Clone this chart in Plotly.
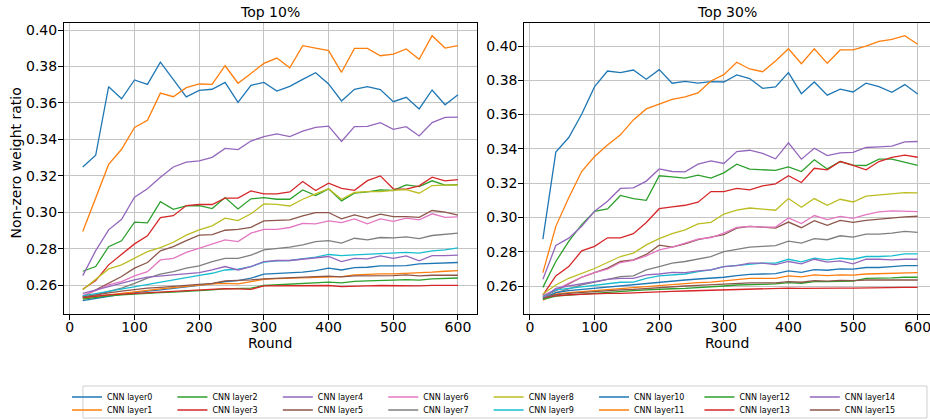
import plotly.graph_objects as go

rounds = list(range(20, 601, 20))
layer_names = [f"CNN layer{i}" for i in range(16)]
colors = ['#1f77b4', '#ff7f0e', '#2ca02c', '#d62728', '#9467bd',
          '#8c564b', '#e377c2', '#7f7f7f', '#bcbd22', '#17becf']

# ---- Top 10% ----
top10_layer0 = [0.3249, 0.3313, 0.3689, 0.3623, 0.3726, 0.3702, 0.3824, 0.3726, 0.3633, 0.3669,
                0.3675, 0.3713, 0.3603, 0.3697, 0.3713, 0.3665, 0.3691, 0.3729, 0.3766, 0.3704,
                0.3611, 0.3675, 0.3689, 0.3673, 0.3607, 0.3631, 0.3567, 0.3671, 0.3590, 0.3645]
top10_layer1 = [0.2895, 0.3080, 0.3263, 0.3346, 0.3466, 0.3505, 0.3654, 0.3634, 0.3684, 0.3704,
                0.3702, 0.3804, 0.3708, 0.3762, 0.3817, 0.3846, 0.3793, 0.3914, 0.3899, 0.3887,
                0.3768, 0.3899, 0.3899, 0.3859, 0.3868, 0.3896, 0.3839, 0.3969, 0.3901, 0.3914]
top10_layer2 = [0.2677, 0.2703, 0.2812, 0.2844, 0.2946, 0.2942, 0.3059, 0.3017, 0.3035, 0.3037,
                0.3021, 0.3081, 0.3019, 0.3074, 0.3081, 0.3072, 0.3072, 0.3123, 0.3092, 0.3129,
                0.3063, 0.3105, 0.3112, 0.3123, 0.3120, 0.3151, 0.3141, 0.3173, 0.3149, 0.3152]
top10_layer3 = [0.2578, 0.2626, 0.2712, 0.2767, 0.2827, 0.2871, 0.2971, 0.2982, 0.3037, 0.3043,
                0.3043, 0.3078, 0.3078, 0.3118, 0.3101, 0.3101, 0.3112, 0.3169, 0.3120, 0.3160,
                0.3132, 0.3121, 0.3174, 0.3200, 0.3129, 0.3127, 0.3145, 0.3193, 0.3173, 0.3180]
top10_layer4 = [0.2653, 0.2790, 0.2904, 0.2962, 0.3083, 0.3129, 0.3192, 0.3249, 0.3276, 0.3282,
                0.3302, 0.3351, 0.3344, 0.3391, 0.3415, 0.3430, 0.3415, 0.3446, 0.3466, 0.3473,
                0.3389, 0.3470, 0.3472, 0.3492, 0.3455, 0.3470, 0.3419, 0.3492, 0.3521, 0.3522]
top10_layer5 = [0.2538, 0.2575, 0.2611, 0.2648, 0.2694, 0.2725, 0.2789, 0.2812, 0.2845, 0.2875,
                0.2878, 0.2902, 0.2907, 0.2918, 0.2953, 0.2957, 0.2959, 0.2981, 0.2999, 0.2999,
                0.2964, 0.2986, 0.2968, 0.2990, 0.2977, 0.2977, 0.2973, 0.3010, 0.3001, 0.2985]
top10_layer6 = [0.2545, 0.2570, 0.2602, 0.2620, 0.2652, 0.2675, 0.2739, 0.2748, 0.2780, 0.2803,
                0.2822, 0.2849, 0.2840, 0.2886, 0.2907, 0.2907, 0.2917, 0.2940, 0.2937, 0.2953,
                0.2944, 0.2964, 0.2937, 0.2964, 0.2951, 0.2968, 0.2959, 0.2992, 0.2973, 0.2975]
top10_layer7 = [0.2538, 0.2547, 0.2566, 0.2584, 0.2611, 0.2639, 0.2661, 0.2675, 0.2694, 0.2706,
                0.2730, 0.2748, 0.2748, 0.2765, 0.2794, 0.2801, 0.2809, 0.2822, 0.2840, 0.2845,
                0.2831, 0.2858, 0.2849, 0.2862, 0.2860, 0.2865, 0.2856, 0.2873, 0.2880, 0.2886]
top10_layer8 = [0.2575, 0.2630, 0.2690, 0.2712, 0.2748, 0.2785, 0.2807, 0.2836, 0.2875, 0.2904,
                0.2926, 0.2968, 0.2955, 0.2992, 0.3046, 0.3044, 0.3035, 0.3072, 0.3101, 0.3129,
                0.3072, 0.3109, 0.3114, 0.3114, 0.3121, 0.3125, 0.3105, 0.3147, 0.3149, 0.3150]
top10_layer9 = [0.2542, 0.2555, 0.2566, 0.2580, 0.2593, 0.2605, 0.2618, 0.2630, 0.2645, 0.2655,
                0.2666, 0.2684, 0.2688, 0.2703, 0.2727, 0.2734, 0.2736, 0.2743, 0.2754, 0.2769,
                0.2763, 0.2767, 0.2770, 0.2776, 0.2776, 0.2780, 0.2776, 0.2789, 0.2794, 0.2805]
top10_layer10 = [0.2516, 0.2530, 0.2540, 0.2550, 0.2560, 0.2568, 0.2575, 0.2582, 0.2590, 0.2600,
                 0.2608, 0.2620, 0.2626, 0.2639, 0.2661, 0.2664, 0.2666, 0.2672, 0.2681, 0.2694,
                 0.2684, 0.2697, 0.2699, 0.2706, 0.2706, 0.2708, 0.2717, 0.2721, 0.2723, 0.2725]
top10_layer11 = [0.2529, 0.2540, 0.2548, 0.2556, 0.2565, 0.2572, 0.2580, 0.2587, 0.2595, 0.2602,
                 0.2608, 0.2611, 0.2608, 0.2620, 0.2633, 0.2637, 0.2639, 0.2641, 0.2644, 0.2648,
                 0.2648, 0.2657, 0.2661, 0.2663, 0.2663, 0.2666, 0.2666, 0.2672, 0.2677, 0.2680]
top10_layer12 = [0.2524, 0.2534, 0.2542, 0.2548, 0.2553, 0.2557, 0.2560, 0.2563, 0.2566, 0.2569,
                 0.2575, 0.2580, 0.2582, 0.2584, 0.2599, 0.2602, 0.2604, 0.2608, 0.2613, 0.2617,
                 0.2613, 0.2622, 0.2624, 0.2628, 0.2628, 0.2631, 0.2628, 0.2635, 0.2639, 0.2640]
top10_layer13 = [0.2533, 0.2541, 0.2547, 0.2552, 0.2556, 0.2560, 0.2566, 0.2569, 0.2571, 0.2575,
                 0.2578, 0.2582, 0.2580, 0.2578, 0.2597, 0.2597, 0.2597, 0.2597, 0.2597, 0.2599,
                 0.2593, 0.2597, 0.2597, 0.2599, 0.2597, 0.2595, 0.2597, 0.2600, 0.2600, 0.2600]
top10_layer14 = [0.2556, 0.2575, 0.2595, 0.2612, 0.2630, 0.2645, 0.2652, 0.2658, 0.2666, 0.2670,
                 0.2684, 0.2703, 0.2684, 0.2703, 0.2730, 0.2736, 0.2736, 0.2743, 0.2748, 0.2758,
                 0.2730, 0.2748, 0.2745, 0.2761, 0.2748, 0.2761, 0.2734, 0.2763, 0.2763, 0.2765]
top10_layer15 = [0.2535, 0.2548, 0.2558, 0.2568, 0.2578, 0.2584, 0.2589, 0.2594, 0.2599, 0.2604,
                 0.2611, 0.2624, 0.2626, 0.2630, 0.2635, 0.2639, 0.2641, 0.2644, 0.2648, 0.2650,
                 0.2646, 0.2652, 0.2652, 0.2655, 0.2653, 0.2657, 0.2652, 0.2655, 0.2653, 0.2655]

# ---- Top 30% ----
top30_layer0 = [0.2874, 0.3381, 0.3466, 0.3602, 0.3763, 0.3854, 0.3845, 0.3860, 0.3806, 0.3862,
                0.3783, 0.3794, 0.3783, 0.3792, 0.3790, 0.3831, 0.3810, 0.3753, 0.3761, 0.3845,
                0.3722, 0.3790, 0.3713, 0.3748, 0.3732, 0.3783, 0.3763, 0.3730, 0.3775, 0.3720]
top30_layer1 = [0.2678, 0.2948, 0.3115, 0.3268, 0.3355, 0.3423, 0.3482, 0.3569, 0.3633, 0.3660,
                0.3689, 0.3703, 0.3726, 0.3796, 0.3833, 0.3905, 0.3866, 0.3850, 0.3913, 0.3984,
                0.3897, 0.3984, 0.3899, 0.3977, 0.3977, 0.4000, 0.4027, 0.4039, 0.4060, 0.4010]
top30_layer2 = [0.2592, 0.2743, 0.2860, 0.2958, 0.3036, 0.3050, 0.3128, 0.3110, 0.3100, 0.3243,
                0.3237, 0.3229, 0.3247, 0.3229, 0.3260, 0.3311, 0.3282, 0.3278, 0.3274, 0.3295,
                0.3268, 0.3336, 0.3283, 0.3326, 0.3305, 0.3303, 0.3340, 0.3340, 0.3320, 0.3303]
top30_layer3 = [0.2547, 0.2659, 0.2713, 0.2805, 0.2831, 0.2881, 0.2881, 0.2905, 0.2971, 0.3051,
                0.3061, 0.3071, 0.3089, 0.3151, 0.3151, 0.3169, 0.3161, 0.3184, 0.3196, 0.3243,
                0.3204, 0.3287, 0.3278, 0.3326, 0.3303, 0.3278, 0.3326, 0.3351, 0.3363, 0.3351]
top30_layer4 = [0.2639, 0.2836, 0.2879, 0.2948, 0.3036, 0.3094, 0.3169, 0.3173, 0.3212, 0.3283,
                0.3268, 0.3266, 0.3311, 0.3330, 0.3315, 0.3384, 0.3392, 0.3373, 0.3342, 0.3435,
                0.3340, 0.3404, 0.3361, 0.3377, 0.3379, 0.3408, 0.3412, 0.3416, 0.3441, 0.3443]
top30_layer5 = [0.2541, 0.2573, 0.2612, 0.2651, 0.2678, 0.2704, 0.2743, 0.2753, 0.2784, 0.2838,
                0.2827, 0.2846, 0.2870, 0.2883, 0.2899, 0.2938, 0.2948, 0.2944, 0.2938, 0.2973,
                0.2940, 0.2981, 0.2954, 0.2983, 0.2971, 0.2983, 0.2991, 0.2997, 0.3003, 0.3007]
top30_layer6 = [0.2547, 0.2577, 0.2616, 0.2651, 0.2678, 0.2698, 0.2737, 0.2749, 0.2776, 0.2811,
                0.2827, 0.2850, 0.2874, 0.2883, 0.2909, 0.2942, 0.2948, 0.2944, 0.2944, 0.2997,
                0.2964, 0.3011, 0.2987, 0.3006, 0.2995, 0.3016, 0.3032, 0.3038, 0.3038, 0.3034]
top30_layer7 = [0.2537, 0.2561, 0.2586, 0.2606, 0.2623, 0.2639, 0.2655, 0.2659, 0.2694, 0.2713,
                0.2733, 0.2743, 0.2758, 0.2772, 0.2801, 0.2815, 0.2827, 0.2831, 0.2836, 0.2862,
                0.2850, 0.2876, 0.2870, 0.2893, 0.2885, 0.2903, 0.2903, 0.2909, 0.2919, 0.2913]
top30_layer8 = [0.2553, 0.2606, 0.2645, 0.2674, 0.2702, 0.2737, 0.2772, 0.2792, 0.2840, 0.2876,
                0.2905, 0.2928, 0.2962, 0.2971, 0.3020, 0.3042, 0.3055, 0.3049, 0.3042, 0.3110,
                0.3059, 0.3110, 0.3071, 0.3106, 0.3090, 0.3124, 0.3130, 0.3136, 0.3145, 0.3143]
top30_layer9 = [0.2537, 0.2577, 0.2586, 0.2596, 0.2606, 0.2616, 0.2622, 0.2623, 0.2645, 0.2659,
                0.2666, 0.2670, 0.2684, 0.2694, 0.2713, 0.2719, 0.2729, 0.2733, 0.2733, 0.2756,
                0.2741, 0.2762, 0.2752, 0.2762, 0.2756, 0.2772, 0.2772, 0.2776, 0.2788, 0.2788]
top30_layer10 = [0.2522, 0.2561, 0.2573, 0.2580, 0.2590, 0.2596, 0.2604, 0.2610, 0.2616, 0.2623,
                 0.2629, 0.2635, 0.2641, 0.2645, 0.2651, 0.2661, 0.2668, 0.2670, 0.2672, 0.2688,
                 0.2680, 0.2696, 0.2692, 0.2700, 0.2698, 0.2708, 0.2708, 0.2713, 0.2719, 0.2719]
top30_layer11 = [0.2518, 0.2553, 0.2561, 0.2567, 0.2573, 0.2580, 0.2584, 0.2588, 0.2596, 0.2604,
                 0.2610, 0.2616, 0.2620, 0.2623, 0.2629, 0.2635, 0.2645, 0.2645, 0.2645, 0.2659,
                 0.2653, 0.2665, 0.2661, 0.2665, 0.2663, 0.2670, 0.2672, 0.2674, 0.2678, 0.2678]
top30_layer12 = [0.2522, 0.2541, 0.2547, 0.2553, 0.2557, 0.2561, 0.2567, 0.2573, 0.2577, 0.2582,
                 0.2584, 0.2586, 0.2590, 0.2592, 0.2600, 0.2606, 0.2610, 0.2610, 0.2612, 0.2620,
                 0.2616, 0.2625, 0.2625, 0.2629, 0.2629, 0.2645, 0.2645, 0.2647, 0.2651, 0.2651]
top30_layer13 = [0.2532, 0.2543, 0.2549, 0.2553, 0.2555, 0.2557, 0.2557, 0.2561, 0.2563, 0.2567,
                 0.2569, 0.2571, 0.2573, 0.2577, 0.2579, 0.2580, 0.2582, 0.2584, 0.2584, 0.2588,
                 0.2586, 0.2588, 0.2586, 0.2588, 0.2588, 0.2590, 0.2590, 0.2590, 0.2592, 0.2592]
top30_layer14 = [0.2528, 0.2586, 0.2600, 0.2612, 0.2625, 0.2639, 0.2645, 0.2645, 0.2665, 0.2670,
                 0.2680, 0.2678, 0.2688, 0.2694, 0.2713, 0.2719, 0.2733, 0.2733, 0.2725, 0.2743,
                 0.2729, 0.2756, 0.2739, 0.2747, 0.2729, 0.2756, 0.2756, 0.2752, 0.2756, 0.2756]
top30_layer15 = [0.2528, 0.2549, 0.2557, 0.2563, 0.2569, 0.2573, 0.2577, 0.2580, 0.2586, 0.2592,
                 0.2596, 0.2600, 0.2604, 0.2608, 0.2612, 0.2616, 0.2618, 0.2618, 0.2618, 0.2625,
                 0.2622, 0.2631, 0.2629, 0.2633, 0.2631, 0.2635, 0.2635, 0.2635, 0.2635, 0.2635]

top10 = [top10_layer0, top10_layer1, top10_layer2, top10_layer3, top10_layer4, top10_layer5,
         top10_layer6, top10_layer7, top10_layer8, top10_layer9, top10_layer10, top10_layer11,
         top10_layer12, top10_layer13, top10_layer14, top10_layer15]
top30 = [top30_layer0, top30_layer1, top30_layer2, top30_layer3, top30_layer4, top30_layer5,
         top30_layer6, top30_layer7, top30_layer8, top30_layer9, top30_layer10, top30_layer11,
         top30_layer12, top30_layer13, top30_layer14, top30_layer15]

subplot_titles = ["Top 10%", "Top 30%"]
x_ticks = [0, 100, 200, 300, 400, 500, 600]
y_ticks = [0.26, 0.28, 0.30, 0.32, 0.34, 0.36, 0.38, 0.40]

FONT = "DejaVu Sans"
fig = go.Figure()

for i, name in enumerate(layer_names):
    c = colors[i % 10]
    leg = "legend" if i % 2 == 0 else "legend2"
    fig.add_trace(go.Scatter(x=rounds, y=top10[i], mode="lines", name=name,
                             line=dict(color=c, width=1.3), legend=leg,
                             xaxis="x", yaxis="y", showlegend=True))
for i, name in enumerate(layer_names):
    c = colors[i % 10]
    fig.add_trace(go.Scatter(x=rounds, y=top30[i], mode="lines", name=name,
                             line=dict(color=c, width=1.3),
                             xaxis="x2", yaxis="y2", showlegend=False))

axis_common = dict(showgrid=True, gridcolor="#c4c4c4", gridwidth=1,
                   showline=True, linecolor="black", linewidth=1,
                   ticks="outside", ticklen=5, tickwidth=1, tickcolor="black",
                   zeroline=False, automargin=False, ticklabeloverflow="allow",
                   tickfont=dict(family=FONT, size=14, color="black"))

d1 = [0.0, 0.4766]
d2 = [0.5315, 1.0]

fig.update_layout(
    width=930, height=419,
    margin=dict(l=64, r=0, t=23, b=105, autoexpand=False),
    paper_bgcolor="white", plot_bgcolor="white",
    font=dict(family=FONT, color="black"),
    xaxis=dict(domain=d1, range=[-9, 629], tickvals=x_ticks, mirror=True, anchor="y",
               ticklabelstandoff=-5, **axis_common),
    yaxis=dict(domain=[0, 1], range=[0.24426, 0.40384], tickvals=y_ticks, tickformat=".2f",
               mirror=True, anchor="x", ticklabelstandoff=-2, **axis_common),
    xaxis2=dict(domain=d2, range=[-8.8, 619], tickvals=x_ticks, mirror=True, anchor="y2",
                ticklabelstandoff=-5, **axis_common),
    yaxis2=dict(domain=[0, 1], range=[0.24367, 0.41342], tickvals=y_ticks, tickformat=".2f",
                mirror=False, anchor="x2", ticklabelstandoff=-2, **axis_common),
    legend=dict(orientation="h", x=0.0035, xanchor="left", y=-0.2852, yanchor="middle",
                entrywidth=60.4, entrywidthmode="pixels", bgcolor="rgba(0,0,0,0)",
                borderwidth=0, font=dict(family=FONT, size=8, color="black"),
                itemclick=False, itemdoubleclick=False),
    legend2=dict(orientation="h", x=0.0035, xanchor="left", y=-0.3299, yanchor="middle",
                 entrywidth=60.4, entrywidthmode="pixels", bgcolor="rgba(0,0,0,0)",
                 borderwidth=0, font=dict(family=FONT, size=8, color="black"),
                 itemclick=False, itemdoubleclick=False),
    showlegend=True,
)

annotations = []
for title, d in zip(subplot_titles, [d1, d2]):
    cx = (d[0] + d[1]) / 2
    annotations.append(dict(text=title, x=cx, y=1.0378, xref="paper", yref="paper",
                            xanchor="center", yanchor="middle", showarrow=False,
                            font=dict(family=FONT, size=14, color="black")))
    annotations.append(dict(text="Round", x=cx, y=-0.0997, xref="paper", yref="paper",
                            xanchor="center", yanchor="middle", showarrow=False,
                            font=dict(family=FONT, size=14, color="black")))
annotations.append(dict(text="Non-zero weight ratio", x=-0.0554, y=0.5172, xref="paper", yref="paper",
                        xanchor="center", yanchor="middle", showarrow=False, textangle=-90,
                        font=dict(family=FONT, size=14, color="black")))
fig.update_layout(annotations=annotations)

fig.add_shape(type="rect", xref="paper", yref="paper",
              x0=0.0219, x1=0.9965, y0=-0.2474, y1=-0.3574,
              line=dict(color="#d0d0d0", width=1), fillcolor="rgba(0,0,0,0)", layer="below")

fig.write_html("out.html", config={"displayModeBar": False},
               post_script="document.body.style.margin='0';document.body.style.padding='0';"
                           "document.documentElement.style.overflow='hidden';")
